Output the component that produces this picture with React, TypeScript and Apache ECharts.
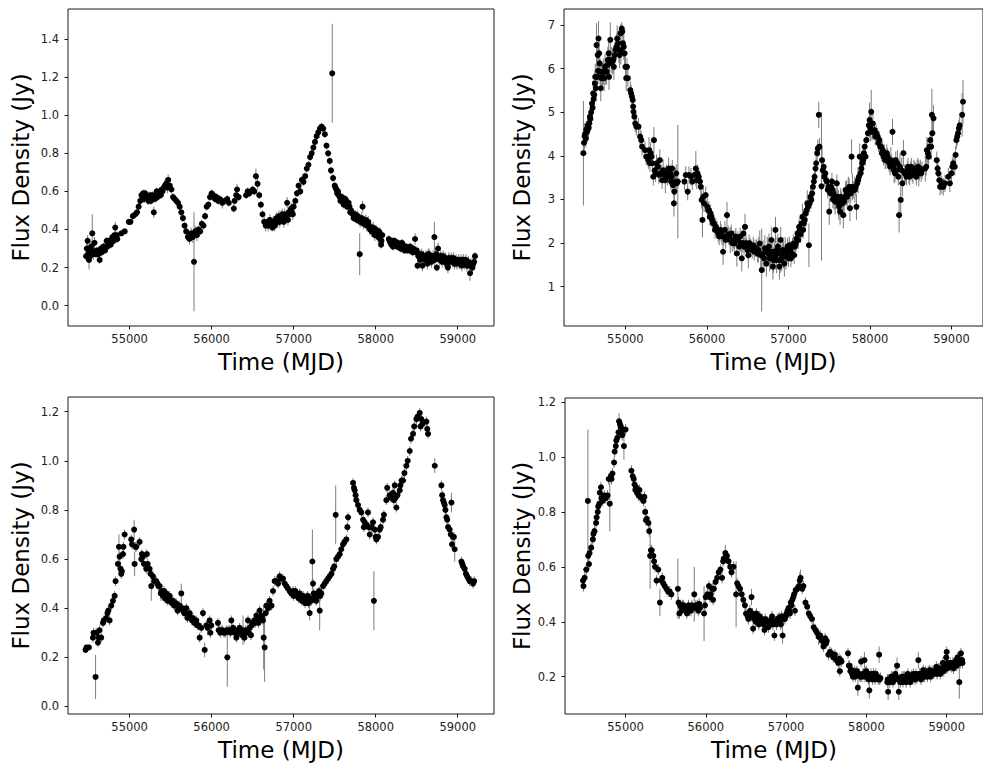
import React, { useEffect, useRef } from "react";
import * as echarts from "echarts";

// Tick labels
const xTicks = [55000, 56000, 57000, 58000, 59000];
const yTicks1 = [0, 0.2, 0.4, 0.6, 0.8, 1.0, 1.2, 1.4];
const yTicks2 = [1, 2, 3, 4, 5, 6, 7];
const yTicks3 = [0, 0.2, 0.4, 0.6, 0.8, 1.0, 1.2];
const yTicks4 = [0.2, 0.4, 0.6, 0.8, 1.0, 1.2];

const xTitle = "Time (MJD)";
const yTitle = "Flux Density (Jy)";

// Light curves: [MJD, flux density (Jy), error (Jy)]
const lc1: number[][] = [
  [54470,0.26,0.02],[54478,0.30,0.04],[54488,0.34,0.03],[54496,0.25,0.02],[54505,0.24,0.05],[54515,0.27,0.03],[54530,0.31,0.03],[54545,0.38,0.10],[54558,0.27,0.03],[54572,0.33,0.03],[54590,0.27,0.02],[54610,0.28,0.02],[54635,0.24,0.02],[54650,0.30,0.02],[54670,0.29,0.02],[54690,0.30,0.02],[54705,0.31,0.02],[54720,0.34,0.02],[54740,0.32,0.02],[54760,0.33,0.02],[54775,0.34,0.02],[54790,0.36,0.02],[54805,0.34,0.02],[54825,0.41,0.03],[54835,0.36,0.02],[54850,0.35,0.02],[54900,0.38,0.01],[54940,0.39,0.01],[54990,0.44,0.01],[55010,0.44,0.01],[55040,0.47,0.02],[55070,0.48,0.02],[55090,0.49,0.02],[55110,0.52,0.02],[55130,0.55,0.02],[55145,0.58,0.02],[55165,0.59,0.02],[55180,0.57,0.03],[55200,0.58,0.02],[55220,0.56,0.03],[55240,0.57,0.02],[55260,0.55,0.02],[55280,0.58,0.02],[55295,0.49,0.03],[55310,0.56,0.02],[55330,0.60,0.02],[55350,0.58,0.02],[55370,0.60,0.02],[55390,0.61,0.02],[55420,0.62,0.02],[55445,0.64,0.03],[55470,0.66,0.03],[55490,0.63,0.02],[55510,0.61,0.02],[55530,0.57,0.02],[55550,0.56,0.02],[55570,0.55,0.02],[55590,0.54,0.02],[55610,0.52,0.02],[55630,0.49,0.02],[55650,0.46,0.02],[55670,0.42,0.02],[55690,0.39,0.02],[55710,0.36,0.02],[55730,0.35,0.03],[55750,0.38,0.03],[55770,0.36,0.03],[55785,0.23,0.26],[55800,0.39,0.03],[55820,0.37,0.03],[55840,0.40,0.02],[55860,0.39,0.02],[55880,0.43,0.02],[55900,0.42,0.02],[55920,0.47,0.02],[55940,0.52,0.02],[55960,0.53,0.02],[55980,0.57,0.02],[56000,0.59,0.02],[56020,0.58,0.02],[56040,0.56,0.02],[56060,0.57,0.02],[56080,0.55,0.02],[56100,0.56,0.02],[56130,0.54,0.03],[56160,0.55,0.02],[56190,0.56,0.02],[56210,0.54,0.02],[56270,0.51,0.02],[56280,0.55,0.02],[56300,0.58,0.02],[56310,0.61,0.03],[56330,0.57,0.02],[56420,0.58,0.02],[56440,0.60,0.02],[56460,0.59,0.02],[56480,0.60,0.02],[56500,0.61,0.02],[56520,0.60,0.02],[56540,0.68,0.04],[56560,0.64,0.03],[56580,0.58,0.02],[56600,0.53,0.02],[56620,0.48,0.02],[56640,0.44,0.03],[56660,0.42,0.03],[56680,0.44,0.02],[56700,0.43,0.02],[56720,0.44,0.02],[56740,0.41,0.02],[56760,0.43,0.02],[56780,0.45,0.03],[56800,0.44,0.03],[56820,0.47,0.03],[56840,0.46,0.03],[56860,0.48,0.03],[56880,0.44,0.03],[56900,0.46,0.03],[56920,0.54,0.03],[56940,0.49,0.03],[56960,0.50,0.03],[56980,0.49,0.03],[57000,0.52,0.02],[57020,0.55,0.02],[57040,0.59,0.02],[57060,0.63,0.02],[57080,0.60,0.02],[57100,0.66,0.02],[57120,0.65,0.02],[57140,0.68,0.02],[57160,0.72,0.02],[57180,0.74,0.02],[57200,0.78,0.02],[57220,0.80,0.02],[57240,0.83,0.02],[57260,0.86,0.02],[57280,0.89,0.02],[57300,0.91,0.02],[57320,0.93,0.02],[57340,0.94,0.02],[57360,0.93,0.02],[57380,0.90,0.02],[57400,0.84,0.02],[57420,0.80,0.02],[57440,0.76,0.02],[57455,0.71,0.02],[57470,1.22,0.26],[57480,0.67,0.02],[57500,0.63,0.02],[57520,0.61,0.02],[57540,0.60,0.02],[57560,0.57,0.02],[57580,0.56,0.02],[57600,0.55,0.02],[57620,0.54,0.02],[57640,0.55,0.02],[57660,0.53,0.02],[57680,0.52,0.02],[57700,0.50,0.02],[57720,0.48,0.02],[57740,0.47,0.02],[57760,0.46,0.02],[57780,0.47,0.03],[57805,0.27,0.11],[57820,0.45,0.03],[57840,0.52,0.03],[57860,0.44,0.03],[57880,0.45,0.03],[57900,0.43,0.03],[57920,0.42,0.03],[57940,0.41,0.02],[57960,0.40,0.03],[57980,0.39,0.02],[58000,0.40,0.02],[58020,0.37,0.02],[58040,0.39,0.02],[58055,0.35,0.02],[58065,0.32,0.02],[58080,0.37,0.02],[58160,0.35,0.02],[58180,0.33,0.02],[58200,0.34,0.02],[58220,0.32,0.02],[58240,0.33,0.02],[58260,0.31,0.02],[58280,0.32,0.02],[58300,0.30,0.02],[58320,0.33,0.02],[58340,0.31,0.02],[58360,0.30,0.02],[58380,0.29,0.02],[58400,0.30,0.02],[58420,0.31,0.02],[58440,0.29,0.02],[58460,0.30,0.02],[58480,0.35,0.03],[58500,0.29,0.02],[58510,0.21,0.02],[58530,0.27,0.02],[58550,0.26,0.03],[58570,0.21,0.03],[58590,0.25,0.03],[58610,0.26,0.03],[58630,0.22,0.03],[58650,0.27,0.03],[58670,0.24,0.03],[58690,0.25,0.03],[58715,0.36,0.08],[58730,0.26,0.03],[58745,0.20,0.02],[58760,0.30,0.03],[58780,0.24,0.03],[58800,0.25,0.03],[58820,0.26,0.03],[58840,0.23,0.03],[58860,0.24,0.03],[58880,0.20,0.03],[58900,0.24,0.03],[58920,0.25,0.03],[58940,0.23,0.03],[58960,0.22,0.03],[58980,0.24,0.03],[59000,0.23,0.03],[59020,0.22,0.03],[59040,0.24,0.03],[59060,0.23,0.03],[59080,0.22,0.03],[59100,0.24,0.03],[59120,0.22,0.03],[59140,0.21,0.03],[59150,0.17,0.04],[59160,0.22,0.03],[59180,0.20,0.03],[59200,0.23,0.03],[59210,0.26,0.02],
  [54500,0.28,0.03],[54520,0.26,0.03],[54540,0.29,0.03],[54600,0.29,0.02],[54620,0.27,0.02],[54660,0.28,0.02],[54680,0.31,0.02],[54700,0.29,0.02],[54730,0.31,0.02],[54750,0.34,0.02],[54770,0.32,0.02],[54800,0.35,0.02],[54815,0.37,0.02],[54845,0.37,0.02],
  [55155,0.57,0.02],[55175,0.56,0.02],[55190,0.59,0.02],[55210,0.57,0.02],[55230,0.55,0.02],[55250,0.58,0.02],[55270,0.57,0.02],[55300,0.57,0.02],[55320,0.58,0.02],[55340,0.57,0.02],[55360,0.59,0.02],[55380,0.58,0.02],[55400,0.60,0.02],[55430,0.63,0.03],[55460,0.62,0.03],
  [56690,0.42,0.03],[56710,0.45,0.03],[56730,0.43,0.03],[56750,0.44,0.03],[56770,0.42,0.03],[56790,0.46,0.03],[56810,0.45,0.03],[56830,0.44,0.03],[56850,0.47,0.03],[56870,0.46,0.03],[56890,0.48,0.03],[56910,0.47,0.03],[56930,0.45,0.03],[56950,0.48,0.03],[56970,0.51,0.03],[56990,0.48,0.03],
  [57510,0.62,0.02],[57530,0.59,0.02],[57550,0.58,0.02],[57570,0.55,0.02],[57590,0.57,0.02],[57610,0.53,0.02],[57630,0.56,0.02],[57650,0.52,0.02],[57670,0.54,0.02],[57690,0.49,0.02],[57710,0.49,0.02],[57730,0.46,0.02],[57750,0.48,0.02],[57770,0.45,0.02],[57790,0.46,0.03],[57810,0.44,0.03],[57830,0.46,0.03],[57850,0.43,0.03],[57870,0.44,0.03],[57890,0.42,0.03],[57910,0.44,0.03],[57930,0.40,0.03],[57950,0.39,0.03],[57970,0.41,0.03],[57990,0.37,0.03],[58010,0.39,0.03],[58030,0.36,0.03],[58050,0.38,0.03],[58070,0.34,0.02],
  [58170,0.34,0.02],[58190,0.32,0.02],[58210,0.31,0.02],[58230,0.34,0.02],[58250,0.32,0.02],[58270,0.33,0.02],[58290,0.31,0.02],[58310,0.30,0.02],[58330,0.32,0.02],[58350,0.29,0.02],[58370,0.31,0.02],[58390,0.30,0.02],[58410,0.29,0.02],[58430,0.30,0.02],[58450,0.28,0.02],[58470,0.29,0.02],[58490,0.28,0.02],[58520,0.26,0.02],[58540,0.24,0.03],[58560,0.27,0.03],[58580,0.26,0.03],[58600,0.24,0.03],[58620,0.25,0.03],[58640,0.27,0.03],[58660,0.26,0.03],[58680,0.23,0.03],[58700,0.26,0.03],[58720,0.24,0.03],[58740,0.27,0.03],[58770,0.25,0.03],[58790,0.26,0.03],[58810,0.23,0.03],[58830,0.25,0.03],[58850,0.25,0.03],[58870,0.22,0.03],[58890,0.25,0.03],[58910,0.23,0.03],[58930,0.24,0.03],[58950,0.25,0.03],[58970,0.23,0.03],[58990,0.22,0.03],[59010,0.24,0.03],[59030,0.23,0.03],[59050,0.21,0.03],[59070,0.24,0.03],[59090,0.23,0.03],[59110,0.21,0.03],[59130,0.23,0.03],[59170,0.21,0.03],[59190,0.22,0.03]
];

const lc2: number[][] = [
  [54485,4.06,1.2],[54492,4.30,0.2],[54500,4.45,0.3],[54515,4.40,0.2],[54530,4.55,0.25],[54545,4.62,0.2],[54558,4.75,0.2],[54570,4.85,0.2],[54580,5.00,0.25],[54598,5.10,0.3],[54605,5.43,0.3],[54618,5.40,0.25],[54625,5.66,0.3],[54638,5.55,0.3],[54646,6.54,0.5],[54655,5.81,0.3],[54665,5.95,0.3],[54670,6.69,0.4],[54678,6.35,0.3],[54685,6.12,0.3],[54690,5.93,0.3],[54698,5.55,0.3],[54719,5.81,0.3],[54740,5.78,0.3],[54759,5.93,0.3],[54779,6.08,0.3],[54795,6.35,0.3],[54799,5.81,0.3],[54815,6.66,0.4],[54825,6.20,0.3],[54839,6.16,0.3],[54859,6.04,0.3],[54890,6.50,0.3],[54899,6.69,0.3],[54910,6.58,0.3],[54920,6.43,0.3],[54930,6.31,0.3],[54940,6.81,0.2],[54955,6.92,0.15],[54962,6.85,0.15],[54980,6.50,0.3],[54990,6.35,0.3],[55000,6.04,0.3],[55010,5.78,0.3],[55020,6.04,0.2],[55030,5.78,0.2],[55060,5.51,0.2],[55070,5.43,0.2],[55080,5.36,0.2],[55090,5.28,0.2],[55095,5.13,0.2],[55100,5.01,0.2],[55110,4.90,0.2],[55121,4.74,0.2],[55135,4.67,0.2],[55161,4.67,0.2],[55181,4.44,0.2],[55195,4.36,0.2],[55205,4.21,0.2],[55241,4.13,0.2],[55255,3.98,0.2],[55281,3.90,0.2],[55290,4.13,0.3],[55322,3.98,0.2],[55330,3.83,0.2],[55342,3.52,0.2],[55350,4.36,0.3],[55382,3.83,0.2],[55422,3.90,0.25],[55430,3.60,0.2],[55462,3.67,0.25],[55490,3.44,0.3],[55503,3.60,0.2],[55530,3.71,0.25],[55543,3.52,0.2],[55560,3.41,0.2],[55575,3.71,0.2],[55583,3.33,0.2],[55595,2.91,0.3],[55600,3.18,0.3],[55615,3.41,0.3],[55623,3.60,0.2],[55643,3.41,1.3],[55724,3.41,0.2],[55740,3.56,0.2],[55764,3.18,0.2],[55780,3.56,0.2],[55804,3.52,0.2],[55820,3.41,0.2],[55844,3.56,0.2],[55864,3.71,0.4],[55875,3.44,0.2],[55884,3.60,0.2],[55900,3.52,0.2],[55915,3.41,0.2],[55925,3.29,0.2],[55935,2.99,0.2],[55945,2.53,0.4],[55955,3.06,0.2],[55965,2.91,0.2],[55985,3.10,0.2],[56005,2.83,0.2],[56025,2.75,0.2],[56045,2.68,0.2],[56065,2.53,0.2],[56085,2.45,0.2],[56100,2.30,0.2],[56126,2.30,0.2],[56140,2.22,0.2],[56166,2.30,0.2],[56185,2.15,0.2],[56198,1.80,0.3],[56206,2.15,0.2],[56220,2.30,0.2],[56246,2.64,0.3],[56260,2.20,0.2],[56286,2.07,0.3],[56300,2.22,0.2],[56327,2.07,0.2],[56345,2.10,0.2],[56367,1.76,0.3],[56380,2.07,0.2],[56407,2.15,0.2],[56427,1.65,0.3],[56440,2.00,0.2],[56447,2.22,0.2],[56467,2.37,0.3],[56487,1.92,0.2],[56508,1.72,0.3],[56528,1.92,0.2],[56568,1.95,0.2],[56590,1.88,0.2],[56608,1.88,0.2],[56630,1.84,0.3],[56648,1.99,0.3],[56672,1.38,0.95],[56688,1.76,0.3],[56710,1.88,0.3],[56729,1.53,0.3],[56750,1.76,0.3],[56769,1.65,0.3],[56790,2.07,0.3],[56809,1.46,0.3],[56825,1.80,0.3],[56841,2.30,0.3],[56855,1.61,0.3],[56870,1.92,0.3],[56889,1.46,0.3],[56905,2.07,0.3],[56930,1.84,0.3],[56950,1.53,0.3],[56970,1.69,0.3],[56990,1.92,0.2],[57010,1.95,0.2],[57030,1.65,0.2],[57050,1.92,0.2],[57070,1.72,0.2],[57090,1.99,0.2],[57100,2.10,0.2],[57111,2.22,0.2],[57131,2.37,0.2],[57150,2.20,0.2],[57171,2.60,0.3],[57190,2.45,0.2],[57211,2.68,0.3],[57231,2.91,0.3],[57251,1.95,0.5],[57271,3.06,0.2],[57291,3.14,0.2],[57312,3.41,0.2],[57320,3.52,0.2],[57332,3.71,0.2],[57352,4.06,0.2],[57360,4.17,0.2],[57372,4.94,0.3],[57380,4.21,0.2],[57405,3.30,1.7],[57412,3.90,0.3],[57432,3.75,0.2],[57452,3.60,0.2],[57472,3.41,0.2],[57492,3.29,0.2],[57500,2.72,0.3],[57513,3.14,0.2],[57533,3.41,0.2],[57545,3.00,0.2],[57560,3.06,0.3],[57573,2.95,0.3],[57593,3.37,0.2],[57613,2.91,0.3],[57620,2.83,0.3],[57633,2.72,0.3],[57653,2.99,0.2],[57673,2.64,0.3],[57683,2.95,0.3],[57693,3.06,0.2],[57714,3.14,0.3],[57734,3.22,0.3],[57754,2.80,0.3],[57774,3.98,0.4],[57785,3.29,0.3],[57814,3.22,0.3],[57834,2.83,0.3],[57854,3.44,0.3],[57874,3.98,0.3],[57894,3.71,0.2],[57915,3.90,0.3],[57935,4.21,0.2],[57945,3.98,0.2],[57955,4.36,0.2],[57975,4.52,0.2],[57985,4.70,0.2],[57995,4.82,0.4],[58005,4.63,0.3],[58015,5.01,0.5],[58025,4.55,0.2],[58035,4.74,0.3],[58055,4.59,0.2],[58065,4.44,0.2],[58075,4.52,0.2],[58095,4.44,0.2],[58115,4.36,0.2],[58136,4.21,0.2],[58156,4.13,0.2],[58176,4.06,0.2],[58196,3.90,0.2],[58216,3.98,0.2],[58236,3.83,0.2],[58256,3.90,0.3],[58276,4.55,0.3],[58296,3.67,0.3],[58316,3.90,0.2],[58337,3.83,0.3],[58357,2.64,0.4],[58367,3.75,0.3],[58377,2.99,0.3],[58390,3.67,0.3],[58397,3.37,0.3],[58410,4.06,0.3],[58425,3.60,0.2],[58457,3.67,0.2],[58477,3.56,0.2],[58497,3.67,0.2],[58517,3.60,0.2],[58538,3.71,0.2],[58558,3.64,0.2],[58578,3.71,0.2],[58598,3.60,0.3],[58618,3.71,0.2],[58638,3.67,0.2],[58678,3.71,0.3],[58698,4.13,0.3],[58710,4.06,0.3],[58719,3.98,0.2],[58730,4.21,0.2],[58739,4.36,0.2],[58750,4.21,0.3],[58759,4.94,0.6],[58765,4.52,0.3],[58779,4.86,0.3],[58819,3.90,0.2],[58829,3.71,0.2],[58839,3.60,0.2],[58850,3.44,0.2],[58859,3.29,0.2],[58870,3.41,0.2],[58880,3.33,0.2],[58899,3.29,0.2],[58920,3.37,0.2],[58960,3.52,0.2],[58980,3.37,0.2],[59000,3.60,0.2],[59010,3.75,0.2],[59020,3.83,0.2],[59040,3.75,0.2],[59050,4.02,0.2],[59060,4.36,0.2],[59070,4.44,0.2],[59080,4.52,0.2],[59090,4.63,0.2],[59100,4.70,0.2],[59130,4.94,0.5],[59141,5.24,0.5],
  [54505,4.50,0.2],[54520,4.60,0.2],[54540,4.70,0.2],[54550,4.65,0.2],[54565,4.90,0.2],[54590,5.20,0.2],[54610,5.30,0.2],[54630,5.81,0.3],[54660,6.31,0.3],[54705,5.78,0.3],[54730,5.93,0.3],[54750,6.04,0.3],[54770,5.93,0.3],[54785,6.20,0.3],[54805,6.12,0.3],[54850,6.20,0.3],[54870,6.31,0.3],[54880,6.43,0.3],[54945,6.40,0.3],[54970,6.58,0.3],
  [55300,3.83,0.2],[55310,4.06,0.25],[55360,3.67,0.2],[55370,3.60,0.2],[55400,3.75,0.2],[55410,3.56,0.2],[55440,3.60,0.2],[55450,3.44,0.2],[55475,3.56,0.2],[55515,3.52,0.2],[55550,3.60,0.2],[55570,3.52,0.2],[55630,3.37,0.2],
  [56015,2.75,0.2],[56035,2.60,0.2],[56055,2.60,0.2],[56075,2.45,0.2],[56110,2.37,0.2],[56150,2.15,0.2],[56175,2.22,0.2],[56230,2.07,0.2],[56270,2.15,0.2],[56310,2.00,0.2],[56335,1.99,0.2],[56355,2.15,0.2],[56395,1.92,0.2],[56415,2.00,0.2],[56455,1.92,0.2],[56478,2.00,0.2],[56497,1.84,0.2],[56518,2.00,0.2],[56540,1.88,0.2],[56555,1.84,0.2],[56580,1.80,0.2],[56620,1.76,0.2],[56660,1.72,0.3],[56700,1.65,0.3],[56740,1.84,0.3],[56760,1.92,0.3],[56780,1.69,0.3],[56800,1.80,0.3],[56815,1.61,0.3],[56835,1.69,0.3],[56860,1.84,0.3],[56880,1.76,0.3],[56898,1.61,0.3],[56918,1.65,0.3],[56940,1.72,0.3],[56960,1.84,0.3],[56980,1.76,0.2],[57000,1.65,0.2],[57020,1.84,0.2],[57040,1.76,0.2],[57060,1.99,0.2],[57080,1.92,0.2],[57120,2.07,0.2],[57140,2.30,0.2],[57160,2.45,0.2],[57180,2.30,0.2],[57200,2.53,0.2],[57220,2.75,0.2],[57240,2.83,0.2],[57260,2.91,0.2],[57280,2.99,0.2],[57300,3.29,0.2],[57340,3.83,0.2],
  [57420,3.67,0.2],[57440,3.52,0.2],[57462,3.44,0.2],[57482,3.22,0.2],[57520,3.29,0.2],[57540,3.22,0.2],[57553,3.14,0.2],[57580,2.99,0.2],[57600,3.06,0.2],[57640,3.06,0.2],[57663,2.91,0.2],[57700,3.22,0.2],[57720,3.06,0.2],[57744,3.29,0.2],[57764,3.14,0.2],[57795,3.22,0.2],[57824,3.29,0.2],[57844,3.37,0.2],[57864,3.52,0.2],[57884,3.60,0.2],[57905,3.83,0.2],[57925,4.06,0.2],
  [58105,4.29,0.2],[58125,4.21,0.2],[58146,4.06,0.2],[58166,3.98,0.2],[58186,3.90,0.2],[58206,4.06,0.2],[58226,3.90,0.2],[58246,3.75,0.2],[58266,3.83,0.2],[58286,3.75,0.2],[58306,3.60,0.2],[58326,3.67,0.2],[58347,3.52,0.2],[58437,3.60,0.2],[58447,3.52,0.2],[58467,3.75,0.2],[58487,3.52,0.2],[58507,3.75,0.2],[58527,3.56,0.2],[58548,3.67,0.2],[58568,3.52,0.2],[58588,3.75,0.2],[58608,3.64,0.2],[58628,3.60,0.2],[58690,3.75,0.2]
];

const lc3: number[][] = [
  [54463,0.23,0.01],[54475,0.24,0.01],[54504,0.24,0.01],[54553,0.28,0.02],[54560,0.30,0.02],[54585,0.12,0.09],[54593,0.30,0.02],[54614,0.26,0.02],[54620,0.28,0.02],[54634,0.31,0.02],[54654,0.28,0.02],[54675,0.34,0.02],[54685,0.35,0.02],[54715,0.36,0.02],[54730,0.38,0.02],[54740,0.39,0.02],[54756,0.35,0.02],[54776,0.41,0.02],[54797,0.43,0.02],[54817,0.45,0.02],[54829,0.51,0.02],[54858,0.58,0.02],[54870,0.65,0.05],[54878,0.61,0.02],[54890,0.56,0.03],[54898,0.54,0.02],[54905,0.55,0.02],[54919,0.62,0.02],[54925,0.65,0.02],[54939,0.70,0.02],[55020,0.68,0.02],[55030,0.66,0.02],[55055,0.72,0.04],[55061,0.58,0.05],[55070,0.65,0.02],[55081,0.65,0.02],[55122,0.67,0.02],[55142,0.60,0.02],[55150,0.62,0.02],[55163,0.61,0.02],[55175,0.58,0.02],[55203,0.56,0.02],[55210,0.62,0.02],[55220,0.58,0.02],[55244,0.56,0.02],[55255,0.54,0.02],[55264,0.49,0.06],[55285,0.53,0.02],[55325,0.51,0.02],[55340,0.50,0.02],[55366,0.49,0.02],[55380,0.46,0.03],[55407,0.45,0.02],[55420,0.47,0.02],[55447,0.46,0.02],[55465,0.43,0.02],[55488,0.45,0.02],[55500,0.43,0.02],[55528,0.43,0.02],[55545,0.41,0.02],[55569,0.42,0.02],[55585,0.39,0.02],[55610,0.41,0.02],[55630,0.46,0.04],[55650,0.39,0.02],[55665,0.38,0.02],[55691,0.40,0.02],[55705,0.36,0.02],[55732,0.38,0.02],[55750,0.36,0.02],[55772,0.36,0.02],[55790,0.34,0.02],[55813,0.35,0.02],[55840,0.33,0.02],[55854,0.28,0.02],[55874,0.32,0.02],[55894,0.38,0.02],[55915,0.23,0.03],[55935,0.33,0.02],[55950,0.32,0.03],[55976,0.35,0.02],[55985,0.30,0.02],[55996,0.33,0.02],[56077,0.34,0.02],[56095,0.31,0.02],[56118,0.31,0.02],[56150,0.30,0.02],[56179,0.31,0.02],[56191,0.20,0.12],[56215,0.31,0.02],[56240,0.35,0.02],[56260,0.32,0.02],[56280,0.30,0.02],[56301,0.28,0.02],[56320,0.31,0.02],[56341,0.32,0.02],[56360,0.30,0.02],[56382,0.31,0.06],[56400,0.28,0.02],[56423,0.30,0.02],[56443,0.35,0.02],[56463,0.32,0.02],[56480,0.29,0.02],[56504,0.34,0.02],[56520,0.35,0.02],[56545,0.37,0.02],[56560,0.35,0.02],[56585,0.39,0.02],[56605,0.37,0.02],[56626,0.35,0.02],[56634,0.28,0.13],[56646,0.24,0.14],[56660,0.38,0.02],[56667,0.41,0.02],[56690,0.40,0.02],[56707,0.43,0.02],[56730,0.41,0.02],[56748,0.47,0.02],[56768,0.51,0.02],[56789,0.51,0.02],[56810,0.50,0.02],[56829,0.53,0.02],[56845,0.52,0.02],[56870,0.52,0.02],[56890,0.50,0.02],[56911,0.49,0.02],[56930,0.48,0.02],[56951,0.47,0.02],[56970,0.46,0.02],[56992,0.47,0.02],[57010,0.46,0.02],[57033,0.46,0.02],[57050,0.45,0.02],[57073,0.46,0.02],[57090,0.44,0.02],[57114,0.45,0.02],[57130,0.43,0.02],[57154,0.43,0.02],[57170,0.45,0.02],[57195,0.38,0.03],[57205,0.44,0.02],[57215,0.43,0.02],[57228,0.59,0.13],[57236,0.50,0.02],[57245,0.46,0.02],[57256,0.45,0.02],[57276,0.43,0.02],[57300,0.45,0.02],[57317,0.39,0.08],[57325,0.45,0.02],[57337,0.46,0.02],[57358,0.49,0.02],[57378,0.50,0.02],[57398,0.51,0.02],[57420,0.52,0.02],[57439,0.53,0.02],[57460,0.54,0.02],[57480,0.56,0.02],[57495,0.57,0.02],[57512,0.78,0.12],[57520,0.60,0.02],[57540,0.61,0.02],[57561,0.62,0.02],[57580,0.64,0.02],[57602,0.66,0.02],[57620,0.67,0.02],[57642,0.68,0.02],[57655,0.73,0.02],[57663,0.77,0.02],[57724,0.91,0.02],[57735,0.89,0.02],[57744,0.88,0.02],[57755,0.86,0.02],[57764,0.84,0.02],[57785,0.82,0.02],[57805,0.80,0.02],[57825,0.79,0.02],[57846,0.76,0.02],[57856,0.73,0.02],[57866,0.75,0.02],[57886,0.74,0.02],[57906,0.79,0.02],[57915,0.73,0.02],[57927,0.70,0.02],[57947,0.73,0.02],[57967,0.75,0.02],[57978,0.43,0.12],[57988,0.72,0.02],[58000,0.69,0.02],[58008,0.68,0.02],[58028,0.69,0.02],[58049,0.72,0.02],[58060,0.73,0.02],[58089,0.76,0.02],[58100,0.78,0.02],[58130,0.84,0.02],[58140,0.89,0.02],[58171,0.86,0.02],[58185,0.85,0.02],[58211,0.87,0.02],[58222,0.84,0.02],[58232,0.90,0.02],[58242,0.85,0.02],[58252,0.81,0.02],[58265,0.86,0.02],[58293,0.88,0.02],[58300,0.90,0.02],[58315,0.92,0.02],[58333,0.92,0.02],[58350,0.95,0.02],[58374,0.98,0.02],[58390,1.00,0.02],[58415,1.04,0.02],[58430,1.09,0.02],[58455,1.11,0.02],[58470,1.14,0.02],[58496,1.17,0.02],[58510,1.18,0.02],[58537,1.195,0.02],[58547,1.14,0.02],[58557,1.17,0.02],[58570,1.15,0.02],[58618,1.16,0.02],[58628,1.13,0.02],[58638,1.11,0.02],[58720,0.98,0.03],[58801,0.90,0.02],[58810,0.86,0.02],[58821,0.84,0.02],[58831,0.83,0.02],[58841,0.82,0.02],[58850,0.80,0.02],[58862,0.77,0.02],[58872,0.76,0.02],[58882,0.73,0.02],[58902,0.72,0.02],[58915,0.70,0.02],[58923,0.83,0.04],[58930,0.66,0.02],[58943,0.69,0.02],[58953,0.69,0.02],[58963,0.64,0.05],[59045,0.59,0.02],[59055,0.58,0.02],[59065,0.57,0.02],[59085,0.56,0.02],[59100,0.54,0.02],[59115,0.53,0.02],[59130,0.52,0.02],[59146,0.51,0.02],[59165,0.51,0.02],[59187,0.50,0.02],[59200,0.51,0.02],
  [55300,0.51,0.02],[55350,0.49,0.02],[55390,0.47,0.02],[55430,0.44,0.02],[55475,0.44,0.02],[55515,0.42,0.02],[55555,0.42,0.02],[55597,0.40,0.02],[55640,0.40,0.02],[55680,0.38,0.02],[55720,0.37,0.02],[55760,0.35,0.02],[55800,0.34,0.02],[55827,0.33,0.02],
  [56085,0.31,0.02],[56105,0.30,0.02],[56135,0.31,0.02],[56165,0.30,0.02],[56200,0.31,0.02],[56228,0.30,0.02],[56250,0.31,0.02],[56290,0.31,0.02],[56310,0.30,0.02],[56330,0.30,0.02],[56350,0.31,0.02],[56370,0.29,0.02],[56410,0.31,0.02],[56433,0.31,0.02],[56453,0.30,0.02],[56490,0.33,0.02],[56530,0.34,0.02],[56570,0.34,0.02],[56595,0.36,0.02],[56615,0.36,0.02],
  [57000,0.45,0.02],[57020,0.47,0.02],[57040,0.45,0.02],[57060,0.44,0.02],[57080,0.45,0.02],[57100,0.43,0.02],[57120,0.44,0.02],[57140,0.42,0.02],[57160,0.44,0.02],[57180,0.42,0.02],[57265,0.44,0.02],[57287,0.46,0.02],[57310,0.47,0.02]
];

const lc4: number[][] = [
  [54470,0.55,0.02],[54476,0.53,0.02],[54491,0.56,0.02],[54511,0.59,0.02],[54531,0.84,0.26],[54535,0.64,0.02],[54545,0.61,0.02],[54552,0.65,0.02],[54572,0.67,0.02],[54593,0.70,0.02],[54600,0.72,0.02],[54613,0.73,0.02],[54633,0.76,0.02],[54640,0.78,0.02],[54654,0.80,0.02],[54660,0.82,0.02],[54674,0.83,0.02],[54680,0.87,0.02],[54694,0.89,0.02],[54700,0.85,0.02],[54715,0.84,0.02],[54735,0.86,0.02],[54755,0.85,0.02],[54776,0.86,0.02],[54790,0.92,0.02],[54804,0.83,0.1],[54817,0.93,0.02],[54825,0.92,0.02],[54837,0.94,0.02],[54857,0.98,0.02],[54865,1.02,0.02],[54878,1.04,0.02],[54885,1.06,0.02],[54898,1.07,0.02],[54912,1.09,0.02],[54919,1.13,0.03],[54930,1.12,0.02],[54939,1.11,0.02],[54950,1.09,0.02],[54959,1.08,0.02],[54970,1.10,0.02],[54980,1.04,0.05],[55000,1.10,0.02],[55073,0.95,0.02],[55090,0.93,0.02],[55102,0.92,0.02],[55112,0.90,0.02],[55122,0.88,0.02],[55132,0.89,0.02],[55143,0.87,0.02],[55163,0.86,0.02],[55173,0.88,0.02],[55183,0.855,0.02],[55204,0.85,0.02],[55224,0.84,0.02],[55235,0.855,0.02],[55245,0.80,0.02],[55255,0.77,0.02],[55265,0.775,0.02],[55285,0.76,0.02],[55295,0.73,0.02],[55306,0.64,0.12],[55316,0.66,0.02],[55326,0.66,0.02],[55346,0.64,0.02],[55356,0.62,0.02],[55367,0.60,0.02],[55387,0.55,0.02],[55408,0.59,0.02],[55428,0.47,0.05],[55448,0.55,0.02],[55458,0.56,0.02],[55469,0.54,0.02],[55489,0.53,0.02],[55510,0.52,0.02],[55530,0.51,0.02],[55550,0.51,0.02],[55571,0.50,0.02],[55652,0.52,0.11],[55660,0.47,0.02],[55670,0.43,0.02],[55693,0.455,0.02],[55710,0.46,0.02],[55734,0.45,0.02],[55754,0.44,0.02],[55774,0.45,0.02],[55795,0.44,0.02],[55815,0.44,0.02],[55856,0.50,0.1],[55866,0.45,0.02],[55876,0.46,0.02],[55897,0.46,0.02],[55907,0.44,0.02],[55917,0.465,0.02],[55978,0.43,0.1],[55990,0.46,0.02],[55998,0.49,0.02],[56019,0.50,0.02],[56039,0.53,0.02],[56050,0.49,0.02],[56060,0.50,0.02],[56080,0.52,0.02],[56090,0.48,0.02],[56100,0.52,0.02],[56121,0.545,0.02],[56141,0.56,0.02],[56160,0.58,0.02],[56182,0.59,0.02],[56202,0.56,0.02],[56215,0.62,0.02],[56223,0.63,0.02],[56243,0.65,0.03],[56253,0.63,0.02],[56263,0.64,0.02],[56284,0.62,0.02],[56304,0.60,0.02],[56320,0.58,0.02],[56345,0.60,0.02],[56377,0.50,0.12],[56390,0.54,0.02],[56406,0.53,0.02],[56426,0.52,0.02],[56447,0.50,0.02],[56467,0.48,0.02],[56487,0.46,0.02],[56500,0.43,0.02],[56520,0.42,0.02],[56550,0.44,0.02],[56569,0.49,0.03],[56580,0.43,0.02],[56589,0.375,0.02],[56600,0.41,0.02],[56610,0.42,0.02],[56630,0.43,0.02],[56650,0.41,0.02],[56671,0.42,0.02],[56690,0.40,0.02],[56712,0.395,0.02],[56730,0.37,0.02],[56752,0.38,0.02],[56770,0.40,0.02],[56793,0.395,0.02],[56815,0.41,0.02],[56834,0.39,0.02],[56854,0.35,0.02],[56870,0.40,0.02],[56890,0.41,0.02],[56915,0.415,0.02],[56935,0.39,0.02],[56956,0.35,0.03],[56970,0.41,0.02],[56997,0.42,0.02],[57017,0.44,0.02],[57030,0.45,0.02],[57048,0.43,0.02],[57058,0.47,0.02],[57078,0.48,0.02],[57090,0.49,0.02],[57099,0.50,0.02],[57110,0.44,0.02],[57119,0.515,0.02],[57139,0.52,0.02],[57160,0.53,0.02],[57170,0.55,0.03],[57180,0.56,0.03],[57201,0.52,0.02],[57215,0.53,0.02],[57241,0.47,0.02],[57262,0.455,0.02],[57282,0.43,0.02],[57300,0.42,0.02],[57323,0.41,0.02],[57343,0.38,0.02],[57364,0.37,0.02],[57384,0.36,0.02],[57404,0.345,0.03],[57425,0.35,0.02],[57445,0.33,0.03],[57465,0.31,0.02],[57486,0.34,0.02],[57496,0.32,0.02],[57506,0.33,0.02],[57527,0.28,0.02],[57547,0.29,0.02],[57567,0.285,0.02],[57587,0.27,0.02],[57608,0.28,0.02],[57628,0.26,0.02],[57649,0.25,0.02],[57660,0.265,0.02],[57669,0.22,0.02],[57680,0.26,0.02],[57690,0.255,0.02],[57771,0.285,0.02],[57781,0.24,0.02],[57791,0.24,0.02],[57812,0.225,0.02],[57822,0.21,0.02],[57832,0.20,0.02],[57853,0.22,0.02],[57873,0.215,0.02],[57893,0.16,0.03],[57903,0.21,0.02],[57914,0.205,0.02],[57934,0.255,0.02],[57944,0.20,0.02],[57954,0.21,0.02],[57975,0.26,0.03],[57990,0.215,0.02],[58005,0.20,0.02],[58016,0.21,0.02],[58036,0.15,0.03],[58046,0.20,0.02],[58056,0.21,0.02],[58076,0.19,0.02],[58097,0.205,0.02],[58117,0.21,0.02],[58138,0.20,0.02],[58158,0.28,0.03],[58165,0.19,0.02],[58175,0.195,0.02],[58260,0.18,0.02],[58270,0.145,0.03],[58280,0.19,0.02],[58301,0.19,0.02],[58320,0.20,0.02],[58342,0.195,0.02],[58360,0.21,0.02],[58382,0.24,0.03],[58392,0.19,0.02],[58403,0.145,0.03],[58423,0.18,0.02],[58444,0.20,0.02],[58464,0.20,0.02],[58485,0.19,0.02],[58505,0.19,0.02],[58525,0.20,0.02],[58545,0.18,0.02],[58565,0.205,0.02],[58586,0.21,0.02],[58606,0.19,0.02],[58627,0.194,0.02],[58647,0.26,0.03],[58660,0.21,0.02],[58668,0.21,0.02],[58690,0.20,0.02],[58708,0.224,0.02],[58725,0.20,0.02],[58749,0.21,0.02],[58770,0.22,0.02],[58790,0.224,0.02],[58810,0.21,0.02],[58831,0.218,0.02],[58850,0.22,0.02],[58871,0.236,0.02],[58890,0.22,0.02],[58912,0.23,0.02],[58930,0.225,0.02],[58953,0.25,0.02],[58975,0.24,0.02],[58994,0.27,0.02],[59000,0.29,0.02],[59014,0.25,0.02],[59034,0.24,0.02],[59055,0.235,0.02],[59075,0.25,0.02],[59090,0.24,0.02],[59116,0.26,0.02],[59136,0.27,0.02],[59157,0.18,0.06],[59170,0.25,0.02],[59177,0.285,0.02],[59190,0.26,0.02],[59197,0.25,0.02],
  [55680,0.46,0.02],[55700,0.44,0.02],[55720,0.46,0.02],[55744,0.45,0.02],[55764,0.43,0.02],[55784,0.46,0.02],[55805,0.45,0.02],[55826,0.46,0.02],[55886,0.45,0.02],[55927,0.45,0.02],
  [56530,0.41,0.02],[56560,0.42,0.02],[56620,0.40,0.02],[56640,0.42,0.02],[56660,0.39,0.02],[56700,0.41,0.02],[56720,0.39,0.02],[56740,0.41,0.02],[56780,0.38,0.02],[56805,0.40,0.02],[56825,0.42,0.02],[56845,0.40,0.02],[56880,0.39,0.02],[56905,0.41,0.02],[56925,0.40,0.02],[56945,0.42,0.02],[56985,0.41,0.02],[57005,0.43,0.02],[57038,0.44,0.02],[57068,0.46,0.02],
  [57800,0.22,0.02],[57840,0.21,0.02],[57862,0.20,0.02],[57883,0.22,0.02],[57924,0.20,0.02],[57964,0.21,0.02],[57982,0.20,0.02],[57998,0.22,0.02],[58026,0.19,0.02],[58066,0.20,0.02],[58086,0.21,0.02],[58107,0.19,0.02],[58128,0.20,0.02],[58148,0.19,0.02],[58265,0.19,0.02],[58290,0.18,0.02],[58310,0.20,0.02],[58330,0.18,0.02],[58350,0.19,0.02],[58370,0.20,0.02],[58412,0.19,0.02],[58433,0.19,0.02],[58454,0.18,0.02],[58474,0.20,0.02],[58495,0.18,0.02],[58515,0.21,0.02],[58535,0.19,0.02],[58555,0.20,0.02],[58576,0.19,0.02],[58596,0.20,0.02],[58617,0.21,0.02],[58637,0.20,0.02],[58680,0.19,0.02],[58700,0.21,0.02],[58716,0.20,0.02],[58737,0.22,0.02],[58760,0.20,0.02],[58780,0.21,0.02],[58800,0.20,0.02],[58820,0.22,0.02],[58840,0.21,0.02],[58860,0.22,0.02],[58880,0.21,0.02],[58900,0.23,0.02],[58920,0.21,0.02],[58940,0.23,0.02],[58963,0.22,0.02],[58985,0.24,0.02],[59005,0.23,0.02],[59024,0.24,0.02],[59045,0.25,0.02],[59065,0.24,0.02],[59085,0.23,0.02],[59105,0.25,0.02],[59126,0.24,0.02],[59146,0.25,0.02],[59185,0.26,0.02]
];

const FONT = "DejaVu Sans";

type Panel = {
  data: number[][];
  yTicks: number[];
  xMin: number; xMax: number; yMin: number; yMax: number;
  left: number; top: number; width: number; height: number;
  yNameGap: number; dec: number;
};

const panels: Panel[] = [
  { data: lc1, yTicks: yTicks1, xMin: 54249, xMax: 59442, yMin: -0.107, yMax: 1.558, left: 68, top: 9, width: 426, height: 317, yNameGap: 36, dec: 1 },
  { data: lc2, yTicks: yTicks2, xMin: 54247, xMax: 59386, yMin: 0.098, yMax: 7.367, left: 564, top: 9, width: 426, height: 317, yNameGap: 31, dec: 0 },
  { data: lc3, yTicks: yTicks3, xMin: 54249, xMax: 59442, yMin: -0.031, yMax: 1.26, left: 68, top: 397, width: 426, height: 317, yNameGap: 36, dec: 1 },
  { data: lc4, yTicks: yTicks4, xMin: 54246, xMax: 59452, yMin: 0.064, yMax: 1.215, left: 565, top: 398, width: 426, height: 316, yNameGap: 31, dec: 1 },
];

export default function App() {
  const ref = useRef<HTMLDivElement>(null);
  useEffect(() => {
    if (!ref.current) return;
    const chart = echarts.init(ref.current, undefined, { renderer: "svg" });
    const grid: any[] = [];
    const xAxis: any[] = [];
    const yAxis: any[] = [];
    const series: any[] = [];
    panels.forEach((p, i) => {
      grid.push({ left: p.left, top: p.top, width: p.width, height: p.height, show: true, borderColor: "#1a1a1a", borderWidth: 1, backgroundColor: "transparent" });
      xAxis.push({
        type: "value", gridIndex: i, min: p.xMin, max: p.xMax, position: "bottom",
        name: xTitle, nameLocation: "middle", nameGap: 24,
        nameTextStyle: { fontFamily: FONT, fontSize: 23, color: "#000" },
        axisLine: { show: false, onZero: false },
        axisTick: { show: true, inside: false, length: 3.5, customValues: xTicks, lineStyle: { color: "#1a1a1a", width: 1 } },
        axisLabel: { customValues: xTicks, fontFamily: FONT, fontSize: 11.5, color: "#222", margin: 7, formatter: (v: number) => String(v) },
        splitLine: { show: false },
      });
      yAxis.push({
        type: "value", gridIndex: i, min: p.yMin, max: p.yMax, position: "left",
        name: yTitle, nameLocation: "middle", nameGap: p.yNameGap,
        nameTextStyle: { fontFamily: FONT, fontSize: 23, color: "#000" },
        axisLine: { show: false, onZero: false },
        axisTick: { show: true, inside: false, length: 3.5, customValues: p.yTicks, lineStyle: { color: "#1a1a1a", width: 1 } },
        axisLabel: { customValues: p.yTicks, fontFamily: FONT, fontSize: 11.5, color: "#222", margin: 9, formatter: (v: number) => v.toFixed(p.dec) },
        splitLine: { show: false },
      });
      series.push({
        type: "custom", xAxisIndex: i, yAxisIndex: i, data: p.data, silent: true, clip: true, z: 2,
        encode: { x: 0, y: 1 },
        renderItem: (_params: any, api: any) => {
          const x = api.value(0), y = api.value(1), e = api.value(2);
          const a = api.coord([x, y - e]);
          const b = api.coord([x, y + e]);
          return { type: "line", shape: { x1: a[0], y1: a[1], x2: b[0], y2: b[1] }, style: { stroke: "#7d7d7d", lineWidth: 1 } };
        },
      });
      series.push({
        type: "scatter", xAxisIndex: i, yAxisIndex: i, silent: true, z: 3,
        data: p.data.map((d) => [d[0], d[1]]),
        symbol: "circle", symbolSize: 6,
        itemStyle: { color: "#000", borderWidth: 0, opacity: 1 },
      });
    });
    chart.setOption({ animation: false, backgroundColor: "#fff", grid, xAxis, yAxis, series });
    return () => chart.dispose();
  }, []);
  return <div ref={ref} style={{ position: "fixed", left: 0, top: 0, width: 983, height: 763, background: "#fff" }} />;
}
